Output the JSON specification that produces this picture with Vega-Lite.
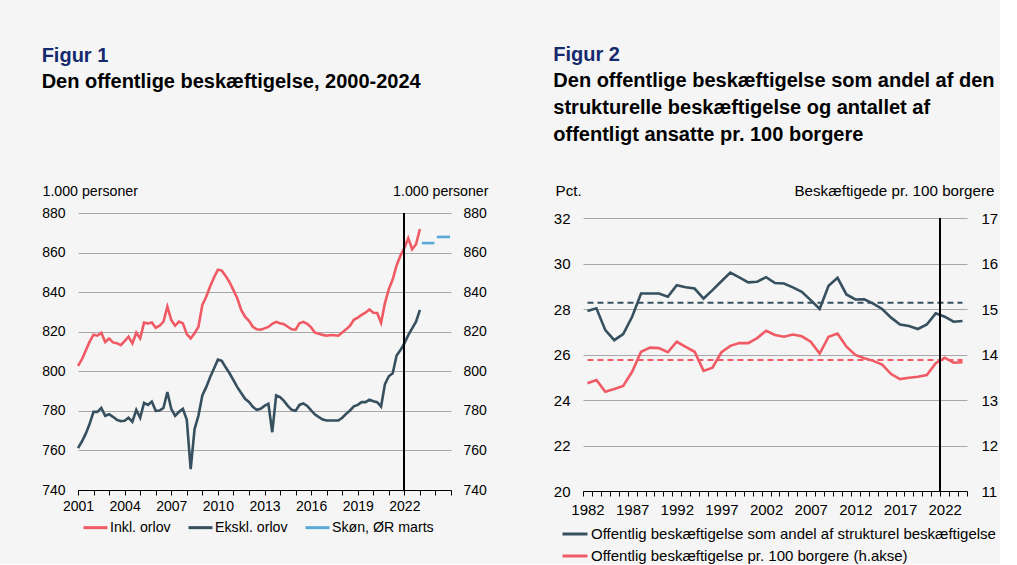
{
  "$schema": "https://vega.github.io/schema/vega-lite/v6.json",
  "background": "#f5f5f5",
  "padding": {"left": 41, "top": 45, "right": 2, "bottom": 0},
  "spacing": 65,
  "config": {
    "font": "Liberation Sans",
    "view": {"stroke": null},
    "axis": {"labelFont": "Liberation Sans", "labelColor": "#000000", "titleFont": "Liberation Sans", "titleFontWeight": "normal", "titleColor": "#000000", "labelOverlap": false, "tickCount": 100},
    "legend": {"labelFont": "Liberation Sans", "labelColor": "#000000"}
  },
  "resolve": {"scale": {"color": "independent", "x": "independent", "y": "independent"}, "legend": {"color": "independent"}},
  "hconcat": [
    {
      "width": 373,
      "height": 277,
      "title": {
        "text": "Figur 1",
        "subtitle": "Den offentlige beskæftigelse, 2000-2024",
        "anchor": "start", "frame": "bounds",
        "font": "Liberation Sans", "fontSize": 20, "fontWeight": "bold", "color": "#152a6e",
        "subtitleFont": "Liberation Sans", "subtitleFontSize": 20, "subtitleFontWeight": "bold", "subtitleColor": "#000000",
        "subtitlePadding": 6, "offset": 92
      },
      "data": {"values": [
        {"t":2001,"inkl":802.7,"ekskl":761.2},{"t":2001.25,"inkl":806,"ekskl":764.5},{"t":2001.5,"inkl":810.5,"ekskl":768.5},{"t":2001.75,"inkl":815,"ekskl":773.5},
        {"t":2002,"inkl":818.5,"ekskl":779.5},{"t":2002.25,"inkl":818,"ekskl":779.5},{"t":2002.5,"inkl":819.5,"ekskl":781.5},{"t":2002.75,"inkl":814.8,"ekskl":777.5},
        {"t":2003,"inkl":816.6,"ekskl":778.3},{"t":2003.25,"inkl":814.6,"ekskl":777},{"t":2003.5,"inkl":814.2,"ekskl":775.5},{"t":2003.75,"inkl":813.2,"ekskl":774.8},
        {"t":2004,"inkl":815.3,"ekskl":775},{"t":2004.25,"inkl":817.5,"ekskl":776.5},{"t":2004.5,"inkl":814.1,"ekskl":774.5},{"t":2004.75,"inkl":819.5,"ekskl":780.5},
        {"t":2005,"inkl":816.6,"ekskl":776.5},{"t":2005.25,"inkl":824.6,"ekskl":784},{"t":2005.5,"inkl":824.2,"ekskl":783},{"t":2005.75,"inkl":824.7,"ekskl":784.7},
        {"t":2006,"inkl":822,"ekskl":780},{"t":2006.25,"inkl":823,"ekskl":780.2},{"t":2006.5,"inkl":825.1,"ekskl":781.5},{"t":2006.75,"inkl":832.7,"ekskl":789.5},
        {"t":2007,"inkl":825.9,"ekskl":781},{"t":2007.25,"inkl":823,"ekskl":777.5},{"t":2007.5,"inkl":825.1,"ekskl":779.5},{"t":2007.75,"inkl":824.2,"ekskl":781},
        {"t":2008,"inkl":818.8,"ekskl":775.5},{"t":2008.25,"inkl":816.6,"ekskl":750.5},{"t":2008.5,"inkl":819.2,"ekskl":770.8},{"t":2008.75,"inkl":822.5,"ekskl":777.6},
        {"t":2009,"inkl":833.5,"ekskl":787.8},{"t":2009.25,"inkl":837.7,"ekskl":792},{"t":2009.5,"inkl":842.8,"ekskl":797},{"t":2009.75,"inkl":847.4,"ekskl":801.4},
        {"t":2010,"inkl":851.3,"ekskl":805.9},{"t":2010.25,"inkl":850.9,"ekskl":805.3},{"t":2010.5,"inkl":848.2,"ekskl":802},{"t":2010.75,"inkl":845,"ekskl":799},
        {"t":2011,"inkl":841,"ekskl":795.5},{"t":2011.25,"inkl":836.9,"ekskl":792},{"t":2011.5,"inkl":831,"ekskl":789},{"t":2011.75,"inkl":827.6,"ekskl":786.1},
        {"t":2012,"inkl":825.5,"ekskl":784.5},{"t":2012.25,"inkl":822.5,"ekskl":782},{"t":2012.5,"inkl":821.2,"ekskl":780.5},{"t":2012.75,"inkl":821,"ekskl":781},
        {"t":2013,"inkl":821.7,"ekskl":782.5},{"t":2013.25,"inkl":822.4,"ekskl":783.6},{"t":2013.5,"inkl":824,"ekskl":769.2},{"t":2013.75,"inkl":825,"ekskl":787.8},
        {"t":2014,"inkl":824.3,"ekskl":787},{"t":2014.25,"inkl":823.8,"ekskl":785},{"t":2014.5,"inkl":822.5,"ekskl":782.5},{"t":2014.75,"inkl":821.2,"ekskl":780.5},
        {"t":2015,"inkl":821,"ekskl":780},{"t":2015.25,"inkl":824.3,"ekskl":783},{"t":2015.5,"inkl":825,"ekskl":783.8},{"t":2015.75,"inkl":824,"ekskl":782.5},
        {"t":2016,"inkl":822.2,"ekskl":780.2},{"t":2016.25,"inkl":819.5,"ekskl":778.1},{"t":2016.5,"inkl":819,"ekskl":776.8},{"t":2016.75,"inkl":818.4,"ekskl":775.6},
        {"t":2017,"inkl":818,"ekskl":775.1},{"t":2017.25,"inkl":818.3,"ekskl":775.1},{"t":2017.5,"inkl":818.2,"ekskl":775.1},{"t":2017.75,"inkl":818,"ekskl":775.1},
        {"t":2018,"inkl":819.6,"ekskl":776.5},{"t":2018.25,"inkl":821.2,"ekskl":778.5},{"t":2018.5,"inkl":823,"ekskl":780.2},{"t":2018.75,"inkl":826,"ekskl":782.3},
        {"t":2019,"inkl":827.1,"ekskl":783},{"t":2019.25,"inkl":828.5,"ekskl":784.4},{"t":2019.5,"inkl":829.6,"ekskl":784.4},{"t":2019.75,"inkl":831.3,"ekskl":785.6},
        {"t":2020,"inkl":829.6,"ekskl":784.9},{"t":2020.25,"inkl":829.5,"ekskl":784.4},{"t":2020.5,"inkl":824.5,"ekskl":782.2},{"t":2020.75,"inkl":834.5,"ekskl":793.5},
        {"t":2021,"inkl":841.5,"ekskl":797.5},{"t":2021.25,"inkl":846.5,"ekskl":799},{"t":2021.5,"inkl":853.5,"ekskl":808},{"t":2021.75,"inkl":858.5,"ekskl":810.7},
        {"t":2022,"inkl":862.3,"ekskl":814.1},{"t":2022.25,"inkl":867.3,"ekskl":818.3},{"t":2022.5,"inkl":861.7,"ekskl":821.7},{"t":2022.75,"inkl":864.2,"ekskl":825.1},
        {"t":2023,"inkl":871.9,"ekskl":831}
      ]},
      "layer": [
        {
          "mark": {"type": "line", "strokeWidth": 2.6},
          "encoding": {
            "x": {"field": "t", "type": "quantitative", "scale": {"domain": [2001, 2025], "nice": false, "zero": false},
              "axis": {"values": [2001,2002,2003,2004,2005,2006,2007,2008,2009,2010,2011,2012,2013,2014,2015,2016,2017,2018,2019,2020,2021,2022,2023,2024,2025],
                "tickCount": 100,
                "labelExpr": "((datum.value - 2001) % 3 == 0 && datum.value <= 2022) ? datum.value : ''",
                "title": null, "grid": false, "domainColor": "#000000", "domainWidth": 1, "tickColor": "#000000", "tickSize": 5,
                "labelPadding": 4, "labelFontSize": 14, "labelOverlap": false, "labelSeparation": -40, "labelFlush": false, "labelBound": false}},
            "y": {"field": "inkl", "type": "quantitative", "scale": {"domain": [740, 880], "nice": false, "zero": false},
              "axis": {"values": [740,760,780,800,820,840,860,880], "tickCount": 100, "format": "d", "title": "1.000 personer", "titleAngle": 0, "titleX": -36, "titleY": -18,
                "titleAlign": "left", "titleBaseline": "alphabetic", "titleFontSize": 14.2,
                "grid": true, "gridColor": "#a8a8a8", "gridWidth": 1, "domain": false, "ticks": false, "labelPadding": 13, "labelFontSize": 14}},
            "color": {"datum": "Inkl. orlov", "type": "nominal",
              "scale": {"domain": ["Inkl. orlov", "Ekskl. orlov", "Skøn, ØR marts"], "range": ["#f05a64", "#36505f", "#5aaad7"]},
              "legend": {"orient": "none", "legendX": 4, "legendY": 301, "direction": "horizontal", "title": null,
                "symbolType": "stroke", "symbolSize": 576, "symbolStrokeWidth": 3, "labelFontSize": 14.2, "labelOffset": 1, "columnPadding": 11}}
          }
        },
        {
          "mark": {"type": "line", "strokeWidth": 2.6},
          "encoding": {
            "x": {"field": "t", "type": "quantitative"},
            "y": {"field": "ekskl", "type": "quantitative", "scale": {"domain": [740, 880], "nice": false, "zero": false}, "axis": null},
            "color": {"datum": "Ekskl. orlov", "type": "nominal"}
          }
        },
        {
          "data": {"values": [
            {"t": 2023.12, "v": 864.8, "g": "a"}, {"t": 2023.93, "v": 864.8, "g": "a"},
            {"t": 2024.09, "v": 867.9, "g": "b"}, {"t": 2024.94, "v": 867.9, "g": "b"}
          ]},
          "mark": {"type": "line", "strokeWidth": 2.6},
          "encoding": {
            "x": {"field": "t", "type": "quantitative"},
            "y": {"field": "v", "type": "quantitative", "scale": {"domain": [740, 880], "nice": false, "zero": false},
              "axis": {"orient": "right", "values": [740,760,780,800,820,840,860,880], "tickCount": 100, "format": "d", "title": "1.000 personer", "titleAngle": 0, "titleX": 37, "titleY": -18,
                "titleAlign": "right", "titleBaseline": "alphabetic", "titleFontSize": 14.2,
                "grid": false, "domain": false, "ticks": false, "labelPadding": 12, "labelFontSize": 14}},
            "detail": {"field": "g", "type": "nominal"},
            "color": {"datum": "Skøn, ØR marts", "type": "nominal"}
          }
        },
        {
          "mark": {"type": "rule", "color": "#000000", "strokeWidth": 1},
          "encoding": {"x": {"datum": 2022, "type": "quantitative"}}
        }
      ],
      "resolve": {"scale": {"y": "independent"}}
    },
    {
      "width": 384,
      "height": 278,
      "title": {
        "text": "Figur 2",
        "subtitle": ["Den offentlige beskæftigelse som andel af den", "strukturelle beskæftigelse og antallet af", "offentligt ansatte pr. 100 borgere"],
        "anchor": "start", "frame": "bounds",
        "font": "Liberation Sans", "fontSize": 20, "fontWeight": "bold", "color": "#152a6e",
        "subtitleFont": "Liberation Sans", "subtitleFontSize": 20, "subtitleFontWeight": "bold", "subtitleColor": "#000000",
        "subtitleLineHeight": 27, "subtitlePadding": 6, "offset": 38
      },
      "data": {"values": [
        {"year":1982,"andel":27.91,"pr100":13.37},{"year":1983,"andel":28.03,"pr100":13.44},{"year":1984,"andel":27.07,"pr100":13.18},
        {"year":1985,"andel":26.63,"pr100":13.24},{"year":1986,"andel":26.9,"pr100":13.31},{"year":1987,"andel":27.66,"pr100":13.62},
        {"year":1988,"andel":28.68,"pr100":14.06},{"year":1989,"andel":28.68,"pr100":14.15},{"year":1990,"andel":28.68,"pr100":14.14},
        {"year":1991,"andel":28.54,"pr100":14.05},{"year":1992,"andel":29.05,"pr100":14.28},{"year":1993,"andel":28.96,"pr100":14.17},
        {"year":1994,"andel":28.9,"pr100":14.06},{"year":1995,"andel":28.46,"pr100":13.64},{"year":1996,"andel":28.83,"pr100":13.71},
        {"year":1997,"andel":29.22,"pr100":14.05},{"year":1998,"andel":29.6,"pr100":14.19},{"year":1999,"andel":29.39,"pr100":14.25},
        {"year":2000,"andel":29.17,"pr100":14.25},{"year":2001,"andel":29.2,"pr100":14.36},{"year":2002,"andel":29.4,"pr100":14.52},
        {"year":2003,"andel":29.14,"pr100":14.43},{"year":2004,"andel":29.12,"pr100":14.39},{"year":2005,"andel":28.95,"pr100":14.44},
        {"year":2006,"andel":28.76,"pr100":14.4},{"year":2007,"andel":28.39,"pr100":14.28},{"year":2008,"andel":28.0,"pr100":14.02},
        {"year":2009,"andel":29.02,"pr100":14.39},{"year":2010,"andel":29.37,"pr100":14.46},{"year":2011,"andel":28.64,"pr100":14.17},
        {"year":2012,"andel":28.42,"pr100":13.99},{"year":2013,"andel":28.43,"pr100":13.92},{"year":2014,"andel":28.24,"pr100":13.86},
        {"year":2015,"andel":28.0,"pr100":13.78},{"year":2016,"andel":27.62,"pr100":13.57},{"year":2017,"andel":27.32,"pr100":13.46},
        {"year":2018,"andel":27.25,"pr100":13.49},{"year":2019,"andel":27.12,"pr100":13.51},{"year":2020,"andel":27.32,"pr100":13.55},
        {"year":2021,"andel":27.81,"pr100":13.81},{"year":2022,"andel":27.66,"pr100":13.93},{"year":2023,"andel":27.44,"pr100":13.82},
        {"year":2024,"andel":27.47,"pr100":13.83}
      ]},
      "layer": [
        {
          "mark": {"type": "line", "strokeWidth": 2.6},
          "encoding": {
            "x": {"field": "year", "type": "quantitative", "scale": {"domain": [1981.5, 2024.5], "nice": false, "zero": false},
              "axis": {"values": [1981.5,1982.5,1983.5,1984.5,1985.5,1986.5,1987.5,1988.5,1989.5,1990.5,1991.5,1992.5,1993.5,1994.5,1995.5,1996.5,1997.5,1998.5,1999.5,2000.5,2001.5,2002.5,2003.5,2004.5,2005.5,2006.5,2007.5,2008.5,2009.5,2010.5,2011.5,2012.5,2013.5,2014.5,2015.5,2016.5,2017.5,2018.5,2019.5,2020.5,2021.5,2022.5,2023.5,2024.5],
                "tickCount": 100,
                "labelExpr": "((datum.value + 0.5 - 1982) % 5 == 0 && datum.value < 2024) ? (datum.value + 0.5) : ''",
                "labelOffset": 4.5,
                "title": null, "grid": false, "domainColor": "#000000", "domainWidth": 1, "tickColor": "#000000", "tickSize": 5,
                "labelPadding": 6, "labelFontSize": 15, "labelOverlap": false, "labelSeparation": -40, "labelFlush": false, "labelBound": false}},
            "y": {"field": "andel", "type": "quantitative", "scale": {"domain": [20, 32.22], "nice": false, "zero": false},
              "axis": {"values": [20,22,24,26,28,30,32], "tickCount": 100, "format": "d", "title": "Pct.", "titleAngle": 0, "titleX": -28, "titleY": -18,
                "titleAlign": "left", "titleBaseline": "alphabetic", "titleFontSize": 15.2,
                "grid": true, "gridColor": "#a8a8a8", "gridWidth": 1, "domain": false, "ticks": false, "labelPadding": 13, "labelFontSize": 15}},
            "color": {"datum": "Offentlig beskæftigelse som andel af strukturel beskæftigelse", "type": "nominal",
              "scale": {"domain": ["Offentlig beskæftigelse som andel af strukturel beskæftigelse", "Offentlig beskæftigelse pr. 100 borgere (h.akse)"], "range": ["#36505f", "#f05a64"]},
              "legend": {"orient": "none", "legendX": -22, "legendY": 307, "direction": "vertical", "title": null,
                "symbolType": "stroke", "symbolSize": 625, "symbolStrokeWidth": 3, "labelFontSize": 15, "labelOffset": 2, "labelLimit": 600, "rowPadding": 0}}
          }
        },
        {
          "data": {"values": [{"year": 1982, "snit": 28.28}, {"year": 2024, "snit": 28.28}]},
          "mark": {"type": "line", "strokeWidth": 2, "strokeDash": [6, 4], "color": "#36505f"},
          "encoding": {
            "x": {"field": "year", "type": "quantitative"},
            "y": {"field": "snit", "type": "quantitative", "scale": {"domain": [20, 32.22], "nice": false, "zero": false}, "axis": null}
          }
        },
        {
          "mark": {"type": "line", "strokeWidth": 2.6},
          "encoding": {
            "x": {"field": "year", "type": "quantitative"},
            "y": {"field": "pr100", "type": "quantitative", "scale": {"domain": [11, 17.11], "nice": false, "zero": false},
              "axis": {"orient": "right", "values": [11,12,13,14,15,16,17], "tickCount": 100, "format": "d", "title": "Beskæftigede pr. 100 borgere", "titleAngle": 0, "titleX": 27, "titleY": -18,
                "titleAlign": "right", "titleBaseline": "alphabetic", "titleFontSize": 15.2,
                "grid": false, "domain": false, "ticks": false, "labelPadding": 14, "labelFontSize": 15}},
            "color": {"datum": "Offentlig beskæftigelse pr. 100 borgere (h.akse)", "type": "nominal"}
          }
        },
        {
          "data": {"values": [{"year": 1982, "snit": 13.88}, {"year": 2024, "snit": 13.88}]},
          "mark": {"type": "line", "strokeWidth": 2, "strokeDash": [6, 4], "color": "#f05a64"},
          "encoding": {
            "x": {"field": "year", "type": "quantitative"},
            "y": {"field": "snit", "type": "quantitative", "scale": {"domain": [11, 17.11], "nice": false, "zero": false}, "axis": null}
          }
        },
        {
          "mark": {"type": "rule", "color": "#000000", "strokeWidth": 1},
          "encoding": {
            "x": {"datum": 2021.5, "type": "quantitative"},
            "y": {"datum": 20, "type": "quantitative", "scale": {"domain": [20, 32.22], "nice": false, "zero": false}, "axis": null},
            "y2": {"datum": 32}
          }
        }
      ],
      "resolve": {"scale": {"y": "independent"}}
    }
  ]
}
